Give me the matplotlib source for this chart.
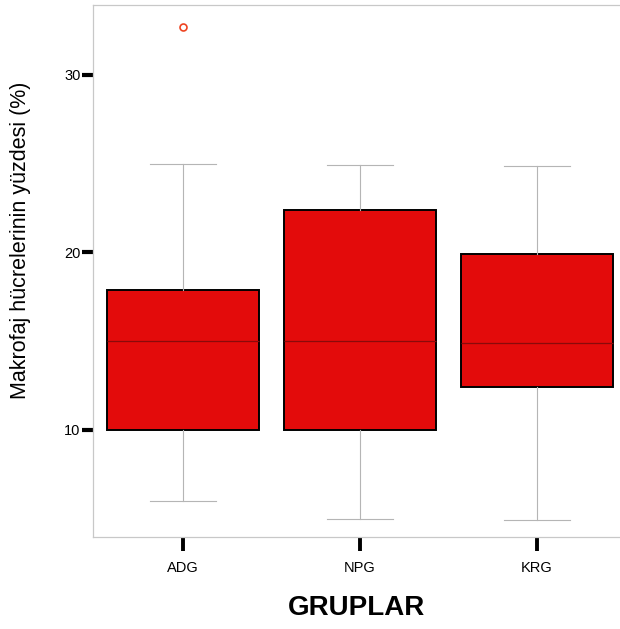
#!/usr/bin/env python3

import matplotlib.pyplot as plt

plt.rcParams['font.family'] = ['Liberation Sans', 'DejaVu Sans']

# read data
groups = ["ADG", "NPG", "KRG"]
whislo = [6.0, 5.0, 4.95]
q1 = [10.0, 10.0, 12.4]
med = [15.0, 15.0, 14.9]
q3 = [17.9, 22.4, 19.9]
whishi = [25.0, 24.9, 24.85]
fliers = [[32.7], [], []]

stats = []
for i in range(len(groups)):
    stats.append(dict(label=groups[i], whislo=whislo[i], q1=q1[i], med=med[i],
                      q3=q3[i], whishi=whishi[i], fliers=fliers[i]))

# plot it
fig = plt.figure(figsize=(6.2, 6.29), dpi=100)
ax = fig.add_axes([93/620, 1 - 537/629, 527/620, 532/629])

ax.bxp(stats, positions=range(len(groups)), widths=0.86, capwidths=0.37,
       patch_artist=True, showfliers=True,
       boxprops=dict(facecolor="#e30b0b", edgecolor="black", linewidth=1.4),
       medianprops=dict(color="#8a0a0a", linewidth=0.9),
       whiskerprops=dict(color="#b5b5b5", linewidth=0.8),
       capprops=dict(color="#b5b5b5", linewidth=0.8),
       flierprops=dict(marker="o", markersize=5, markerfacecolor="white",
                       markeredgecolor="#ee4422", markeredgewidth=1.2))

ax.set_xlim(-0.508, 2.469)
ax.set_ylim(3.97, 33.94)
ax.set_yticks([10, 20, 30])
ax.set_xticks(range(len(groups)))
ax.set_xticklabels(groups)

for s in ["left", "bottom", "top"]:
    ax.spines[s].set_color("#c8c8c8")
    ax.spines[s].set_linewidth(0.9)
ax.spines["right"].set_visible(False)

ax.tick_params(axis="y", direction="out", length=8, width=3, color="black",
               labelsize=10.5, pad=1)
ax.tick_params(axis="x", direction="out", length=10, width=2.8, color="black",
               labelsize=10.5, pad=7)

ax.set_ylabel("Makrofaj hücrelerinin yüzdesi (%)", fontsize=15.5)
ax.yaxis.set_label_coords(-0.117, 0.558)
ax.set_xlabel("GRUPLAR", fontsize=20, fontweight="bold", labelpad=15)

fig.savefig("out.png", dpi=100)
